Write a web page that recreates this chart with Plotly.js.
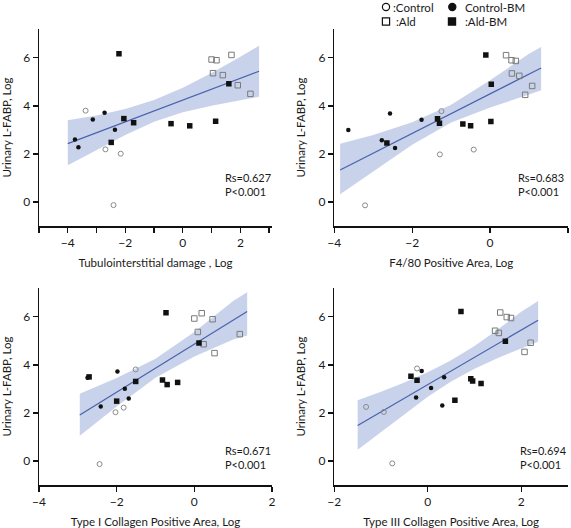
<!DOCTYPE html>
<html>
<head>
<meta charset="utf-8">
<script src="https://cdn.plot.ly/plotly-3.0.1.min.js"></script>
<style>html,body{margin:0;padding:0;background:#fff;}#chart{width:571px;height:528px;}</style>
</head>
<body>
<div id="chart"></div>
<script>
// ---------- DATA ----------
const groupNames = [':Control', 'Control-BM', ':Ald', ':Ald-BM'];
const yTitle = 'Urinary L-FABP, Log';

// Panel 1: Tubulointerstitial damage
const p1Title = 'Tubulointerstitial damage , Log';
const p1CtrlX = [-3.38, -2.69, -2.16, -2.41];
const p1CtrlY = [3.80, 2.19, 2.01, -0.13];
const p1CbmX = [-3.75, -3.63, -3.13, -2.72, -2.36];
const p1CbmY = [2.60, 2.28, 3.43, 3.71, 3.01];
const p1AldX = [1.00, 1.17, 1.69, 1.05, 1.39, 1.91, 2.35];
const p1AldY = [5.93, 5.90, 6.12, 5.36, 5.28, 4.86, 4.50];
const p1AbmX = [-2.22, -2.49, -2.05, -1.71, -0.41, 0.24, 1.14, 1.60];
const p1AbmY = [6.17, 2.48, 3.47, 3.30, 3.26, 3.17, 3.36, 4.92];
const p1FitX = [-4.0, 2.65];
const p1Slope = 0.4526, p1Intercept = 4.24;
const p1BandX = [-4, -3, -2, -1, 0, 1, 2, 2.65];
const p1BandLo = [1.53, 2.16, 2.79, 3.34, 3.73, 4.01, 4.25, 4.38];
const p1BandHi = [3.40, 3.60, 3.87, 4.24, 4.75, 5.37, 6.05, 6.50];
const p1Stats = 'Rs=0.627<br>P&lt;0.001';

// Panel 2: F4/80
const p2Title = 'F4/80 Positive Area, Log';
const p2CtrlX = [-1.25, -1.29, -0.42, -3.21];
const p2CtrlY = [3.78, 1.98, 2.18, -0.14];
const p2CbmX = [-3.64, -2.78, -2.57, -2.44, -1.76];
const p2CbmY = [3.00, 2.57, 3.68, 2.25, 3.42];
const p2AldX = [0.41, 0.55, 0.66, 0.56, 0.75, 1.08, 0.90];
const p2AldY = [6.11, 5.90, 5.87, 5.35, 5.25, 4.83, 4.46];
const p2AbmX = [-0.11, 0.03, 0.02, -0.50, -0.70, -1.30, -1.35, -2.65];
const p2AbmY = [6.12, 4.90, 3.35, 3.17, 3.25, 3.28, 3.46, 2.46];
const p2FitX = [-3.85, 1.31];
const p2Slope = 0.824, p2Intercept = 4.50;
const p2BandX = [-3.85, -3, -2, -1, 0, 1, 1.31];
const p2BandLo = [0.32, 1.27, 2.38, 3.31, 3.93, 4.47, 4.65];
const p2BandHi = [2.42, 2.79, 3.32, 4.05, 5.07, 6.17, 6.45];
const p2Stats = 'Rs=0.683<br>P&lt;0.001';

// Panel 3: Type I collagen
const p3Title = 'Type I Collagen Positive Area, Log';
const p3CtrlX = [-1.51, -1.82, -2.03, -2.44];
const p3CtrlY = [3.81, 2.22, 2.03, -0.13];
const p3CbmX = [-1.98, -1.79, -1.69, -2.41, -2.75];
const p3CbmY = [3.72, 3.01, 2.60, 2.27, 3.46];
const p3AldX = [0.00, 0.19, 0.47, 0.09, 0.24, 0.52, 1.17];
const p3AldY = [5.93, 6.15, 5.90, 5.37, 4.86, 4.49, 5.28];
const p3AbmX = [-0.73, 0.12, -0.82, -0.70, -0.43, -1.51, -2.00, -2.71];
const p3AbmY = [6.17, 4.91, 3.37, 3.18, 3.27, 3.31, 2.49, 3.50];
const p3FitX = [-2.95, 1.36];
const p3Slope = 1.0, p3Intercept = 4.86;
const p3BandX = [-2.95, -2, -1, 0, 1, 1.36];
const p3BandLo = [1.05, 2.27, 3.46, 4.35, 5.06, 5.22];
const p3BandHi = [2.80, 3.45, 4.26, 5.37, 6.66, 7.02];
const p3Stats = 'Rs=0.671<br>P&lt;0.001';

// Panel 4: Type III collagen
const p4Title = 'Type III Collagen Positive Area, Log';
const p4CtrlX = [-0.23, -1.32, -0.94, -0.76];
const p4CtrlY = [3.85, 2.25, 2.04, -0.10];
const p4CbmX = [-0.13, 0.35, 0.07, -0.25, 0.31];
const p4CbmY = [3.75, 3.49, 3.04, 2.64, 2.31];
const p4AldX = [1.55, 1.69, 1.78, 1.44, 1.52, 2.20, 2.07];
const p4AldY = [6.18, 5.99, 5.95, 5.42, 5.33, 4.92, 4.54];
const p4AbmX = [0.71, 1.66, -0.23, -0.36, 0.58, 0.92, 0.96, 1.14];
const p4AbmY = [6.22, 4.98, 3.36, 3.53, 2.53, 3.42, 3.33, 3.22];
const p4FitX = [-1.5, 2.36];
const p4Slope = 1.135, p4Intercept = 3.18;
const p4BandX = [-1.5, -1, -0.5, 0, 0.5, 1, 1.5, 2, 2.36];
const p4BandLo = [0.47, 1.21, 1.96, 2.67, 3.31, 3.84, 4.29, 4.69, 4.96];
const p4BandHi = [2.53, 2.88, 3.27, 3.69, 4.19, 4.79, 5.47, 6.21, 6.66];
const p4Stats = 'Rs=0.694<br>P&lt;0.001';

// ---------- BUILD ----------
const W = 571, H = 528;
const FONT = 'Lato, "Open Sans", sans-serif';
const BAND = 'rgba(190,202,230,0.85)';
const LINE = '#4a62ad';
const TXT = '#1a1a1a';

const panels = [
  {ctrl:[p1CtrlX,p1CtrlY], cbm:[p1CbmX,p1CbmY], ald:[p1AldX,p1AldY], abm:[p1AbmX,p1AbmY],
   fitX:p1FitX, slope:p1Slope, icpt:p1Intercept, bx:p1BandX, lo:p1BandLo, hi:p1BandHi,
   stats:p1Stats, title:p1Title, xr:[-5,3.1], minor:true, statX:0.788, statY:0.213, statA:'left'},
  {ctrl:[p2CtrlX,p2CtrlY], cbm:[p2CbmX,p2CbmY], ald:[p2AldX,p2AldY], abm:[p2AbmX,p2AbmY],
   fitX:p2FitX, slope:p2Slope, icpt:p2Intercept, bx:p2BandX, lo:p2BandLo, hi:p2BandHi,
   stats:p2Stats, title:p2Title, xr:[-4,2], minor:false, statX:0.99, statY:0.213, statA:'right'},
  {ctrl:[p3CtrlX,p3CtrlY], cbm:[p3CbmX,p3CbmY], ald:[p3AldX,p3AldY], abm:[p3AbmX,p3AbmY],
   fitX:p3FitX, slope:p3Slope, icpt:p3Intercept, bx:p3BandX, lo:p3BandLo, hi:p3BandHi,
   stats:p3Stats, title:p3Title, xr:[-4,2], minor:false, statX:0.788, statY:0.14, statA:'left'},
  {ctrl:[p4CtrlX,p4CtrlY], cbm:[p4CbmX,p4CbmY], ald:[p4AldX,p4AldY], abm:[p4AbmX,p4AbmY],
   fitX:p4FitX, slope:p4Slope, icpt:p4Intercept, bx:p4BandX, lo:p4BandLo, hi:p4BandHi,
   stats:p4Stats, title:p4Title, xr:[-2,3], minor:false, statX:0.787, statY:0.14, statA:'left'}
];

// pixel-based domains
const xDom = [[39/W, 272/W], [334.3/W, 568/W]];
const yDom = [[1-226/H, 1-29/H], [1-485/H, 1-288/H]];

const traces = [];
const layout = {
  width: W, height: H,
  margin: {l:0, r:0, t:0, b:0},
  paper_bgcolor: '#fff', plot_bgcolor: 'rgba(0,0,0,0)',
  showlegend: false,
  font: {family: FONT, size: 12, color: TXT},
  annotations: [], shapes: []
};

panels.forEach((p, i) => {
  const n = i + 1;
  const xa = 'x' + (n === 1 ? '' : n), ya = 'y' + (n === 1 ? '' : n);
  const common = {xaxis: xa, yaxis: ya, hoverinfo: 'skip'};
  // band
  traces.push(Object.assign({x: p.bx, y: p.lo, mode: 'lines', line: {width: 0, color: BAND}, type: 'scatter'}, common));
  traces.push(Object.assign({x: p.bx, y: p.hi, mode: 'lines', line: {width: 0, color: BAND}, fill: 'tonexty', fillcolor: BAND, type: 'scatter'}, common));
  // fit line
  traces.push(Object.assign({x: p.fitX, y: p.fitX.map(v => p.icpt + p.slope * v), mode: 'lines', line: {width: 1.2, color: LINE}, type: 'scatter'}, common));
  // groups
  traces.push(Object.assign({x: p.ctrl[0], y: p.ctrl[1], mode: 'markers', name: groupNames[0], type: 'scatter',
    marker: {symbol: 'circle-open', size: 5, color: '#8a8a8a', line: {width: 1, color: '#8a8a8a'}}}, common));
  traces.push(Object.assign({x: p.cbm[0], y: p.cbm[1], mode: 'markers', name: groupNames[1], type: 'scatter',
    marker: {symbol: 'circle', size: 4.5, color: '#111'}}, common));
  traces.push(Object.assign({x: p.ald[0], y: p.ald[1], mode: 'markers', name: groupNames[2], type: 'scatter',
    marker: {symbol: 'square-open', size: 5.5, color: '#7a7a7a', line: {width: 1, color: '#7a7a7a'}}}, common));
  traces.push(Object.assign({x: p.abm[0], y: p.abm[1], mode: 'markers', name: groupNames[3], type: 'scatter',
    marker: {symbol: 'square', size: 5.5, color: '#111'}}, common));

  const col = i % 2, row = Math.floor(i / 2);
  const xKey = 'xaxis' + (n === 1 ? '' : n), yKey = 'yaxis' + (n === 1 ? '' : n);
  layout[xKey] = {
    domain: xDom[col], anchor: ya, range: p.xr, dtick: 2, tick0: 0,
    showline: true, linecolor: '#111', linewidth: 1.5, ticks: 'outside', ticklen: 5, tickwidth: 1.3, tickcolor: '#111',
    showgrid: false, zeroline: false, tickfont: {size: 12, family: FONT, color: TXT},
    title: {text: p.title, font: {size: 11.5, family: FONT, color: TXT}, standoff: 10},
    fixedrange: true
  };
  if (p.minor) layout[xKey].minor = {dtick: 1, tick0: 0, ticks: 'outside', ticklen: 5, tickwidth: 1.3, tickcolor: '#111', showgrid: false};
  layout[yKey] = {
    domain: yDom[row], anchor: xa, range: [-1, 7.2], dtick: 2, tick0: 0,
    showline: true, linecolor: '#111', linewidth: 1.5, ticks: 'outside', ticklen: 5, tickwidth: 1.3, tickcolor: '#111',
    showgrid: false, zeroline: false, tickfont: {size: 12, family: FONT, color: TXT},
    title: {text: yTitle, font: {size: 11.5, family: FONT, color: TXT}, standoff: 10},
    fixedrange: true
  };
  layout.annotations.push({
    xref: xa + ' domain', yref: ya + ' domain', x: p.statX, y: p.statY,
    xanchor: p.statA, yanchor: 'middle', align: 'left', showarrow: false,
    text: p.stats, font: {size: 11, family: FONT, color: TXT}
  });
});

// legend (top right), 2x2
const legItems = [
  {cx: 386, cy: 7, shape: 'circle', fill: false, tx: 390.5, label: groupNames[0]},
  {cx: 452.3, cy: 7, shape: 'circle', fill: true, tx: 462.5, label: groupNames[1]},
  {cx: 386, cy: 21.5, shape: 'rect', fill: false, tx: 394, label: groupNames[2]},
  {cx: 452, cy: 21.5, shape: 'rect', fill: true, tx: 462.5, label: groupNames[3]}
];
const r = 3.6;
legItems.forEach(it => {
  layout.shapes.push({
    type: it.shape, xref: 'paper', yref: 'paper',
    x0: (it.cx - r) / W, x1: (it.cx + r) / W, y0: 1 - (it.cy + r) / H, y1: 1 - (it.cy - r) / H,
    line: {color: '#111', width: 1.2}, fillcolor: it.fill ? '#111' : 'rgba(0,0,0,0)'
  });
  layout.annotations.push({
    xref: 'paper', yref: 'paper', x: it.tx / W, y: 1 - it.cy / H, xanchor: 'left', yanchor: 'middle',
    showarrow: false, text: it.label, font: {size: 11.5, family: FONT, color: TXT}
  });
});

Plotly.newPlot('chart', traces, layout, {staticPlot: true, displayModeBar: false});
</script>
</body>
</html>
